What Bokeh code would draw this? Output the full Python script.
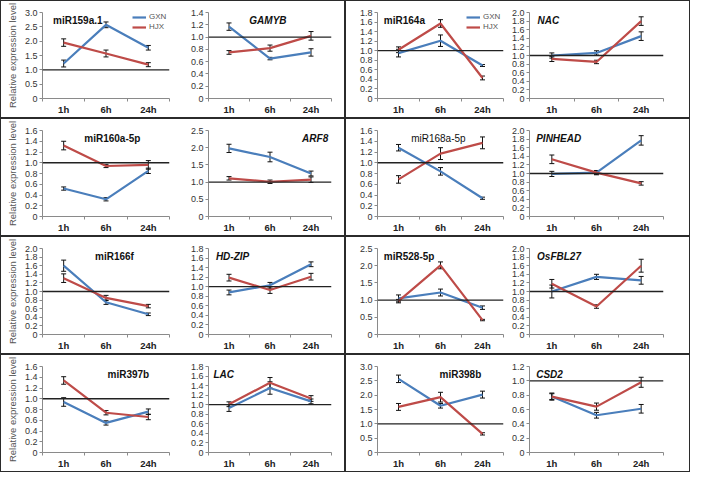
from bokeh.plotting import figure
from bokeh.models import (Span, Whisker, ColumnDataSource, Label, Legend, LegendItem,
                          FixedTicker, CustomJSTickFormatter, Range1d, TeeHead)
from bokeh.layouts import row, column
from bokeh.embed import file_html
from bokeh.resources import INLINE

times = ["1h", "6h", "24h"]
series_names = ["GXN", "HJX"]

# ---- data (relative expression, mean and error) ----
miR159a1_GXN = [1.22, 2.57, 1.77]; miR159a1_GXN_err = [0.12, 0.10, 0.08]
miR159a1_HJX = [1.95, 1.57, 1.18]; miR159a1_HJX_err = [0.13, 0.12, 0.07]
GAMYB_GXN = [1.17, 0.65, 0.75]; GAMYB_GXN_err = [0.06, 0.02, 0.06]
GAMYB_HJX = [0.75, 0.82, 1.02]; GAMYB_HJX_err = [0.03, 0.05, 0.07]

miR164a_GXN = [0.95, 1.21, 0.69]; miR164a_GXN_err = [0.08, 0.12, 0.02]
miR164a_HJX = [1.02, 1.57, 0.43]; miR164a_HJX_err = [0.06, 0.08, 0.04]
NAC_GXN = [1.00, 1.06, 1.45]; NAC_GXN_err = [0.06, 0.05, 0.10]
NAC_HJX = [0.92, 0.85, 1.80]; NAC_HJX_err = [0.06, 0.04, 0.10]

miR160a5p_GXN = [0.52, 0.32, 0.85]; miR160a5p_GXN_err = [0.03, 0.03, 0.05]
miR160a5p_HJX = [1.32, 0.94, 0.96]; miR160a5p_HJX_err = [0.08, 0.03, 0.08]
ARF8_GXN = [1.98, 1.73, 1.25]; ARF8_GXN_err = [0.12, 0.14, 0.07]
ARF8_HJX = [1.11, 1.01, 1.07]; ARF8_HJX_err = [0.05, 0.05, 0.08]

miR168a5p_GXN = [1.28, 0.84, 0.34]; miR168a5p_GXN_err = [0.06, 0.07, 0.02]
miR168a5p_HJX = [0.69, 1.17, 1.37]; miR168a5p_HJX_err = [0.07, 0.11, 0.11]
PINHEAD_GXN = [0.99, 1.02, 1.77]; PINHEAD_GXN_err = [0.06, 0.05, 0.11]
PINHEAD_HJX = [1.33, 1.02, 0.77]; PINHEAD_HJX_err = [0.10, 0.04, 0.04]

miR166f_GXN = [1.60, 0.75, 0.47]; miR166f_GXN_err = [0.13, 0.05, 0.03]
miR166f_HJX = [1.31, 0.85, 0.66]; miR166f_HJX_err = [0.10, 0.06, 0.04]
HDZIP_GXN = [0.88, 1.03, 1.47]; HDZIP_GXN_err = [0.05, 0.06, 0.05]
HDZIP_HJX = [1.19, 0.93, 1.21]; HDZIP_HJX_err = [0.07, 0.07, 0.07]

miR5285p_GXN = [1.05, 1.22, 0.78]; miR5285p_GXN_err = [0.10, 0.10, 0.05]
miR5285p_HJX = [0.97, 2.01, 0.42]; miR5285p_HJX_err = [0.05, 0.10, 0.02]
OsFBL27_GXN = [1.00, 1.34, 1.26]; OsFBL27_GXN_err = [0.15, 0.06, 0.09]
OsFBL27_HJX = [1.18, 0.65, 1.60]; OsFBL27_HJX_err = [0.10, 0.04, 0.15]

miR397b_GXN = [0.94, 0.55, 0.76]; miR397b_GXN_err = [0.08, 0.04, 0.05]
miR397b_HJX = [1.34, 0.74, 0.66]; miR397b_HJX_err = [0.07, 0.04, 0.05]
LAC_GXN = [0.93, 1.35, 1.07]; LAC_GXN_err = [0.07, 0.13, 0.05]
LAC_HJX = [1.01, 1.46, 1.13]; LAC_HJX_err = [0.05, 0.11, 0.06]

miR398b_GXN = [2.57, 1.63, 2.02]; miR398b_GXN_err = [0.13, 0.08, 0.12]
miR398b_HJX = [1.59, 1.93, 0.65]; miR398b_HJX_err = [0.12, 0.17, 0.04]
CSD2_GXN = [0.78, 0.52, 0.61]; CSD2_GXN_err = [0.04, 0.04, 0.06]
CSD2_HJX = [0.78, 0.64, 0.98]; CSD2_HJX_err = [0.05, 0.05, 0.07]

# axis maxima / steps per panel
y_max = {"miR159a.1": 3.0, "GAMYB": 1.4, "miR164a": 1.8, "NAC": 2.0,
         "miR160a-5p": 1.6, "ARF8": 2.5, "miR168a-5p": 1.6, "PINHEAD": 2.0,
         "miR166f": 2.0, "HD-ZIP": 1.8, "miR528-5p": 2.5, "OsFBL27": 2.0,
         "miR397b": 1.6, "LAC": 1.8, "miR398b": 3.0, "CSD2": 1.2}
y_step = {"miR159a.1": 0.5, "GAMYB": 0.2, "miR164a": 0.2, "NAC": 0.2,
          "miR160a-5p": 0.2, "ARF8": 0.5, "miR168a-5p": 0.2, "PINHEAD": 0.2,
          "miR166f": 0.2, "HD-ZIP": 0.2, "miR528-5p": 0.5, "OsFBL27": 0.2,
          "miR397b": 0.2, "LAC": 0.2, "miR398b": 0.5, "CSD2": 0.2}

BLUE = "#4a7ebb"
RED = "#be4b48"
FONT = "Liberation Sans"
ROW_H = 116


def make_panel(name, gxn, gxn_err, hjx, hjx_err, width, bl, br, gene=False,
               ylabel=False, legend=False, tx=0.7, talign="left", tweight="bold"):
    xs = list(range(1, len(times) + 1))
    ymax = y_max[name]
    step = y_step[name]
    n = int(round(ymax / step))
    ticks = [round(i * step, 2) for i in range(n + 1)]
    p = figure(width=width, height=ROW_H, x_range=Range1d(0.5, 3.5),
               y_range=Range1d(0, ymax), output_backend="svg", toolbar_location=None,
               min_border_left=bl, min_border_right=br, min_border_top=11,
               min_border_bottom=10)
    p.grid.visible = False
    p.outline_line_color = None
    p.background_fill_color = "white"
    p.border_fill_color = "white"

    # y axis
    ya = p.yaxis[0]
    ya.ticker = FixedTicker(ticks=ticks)
    ya.formatter = CustomJSTickFormatter(code="return tick == 0 ? '0' : tick.toFixed(1);")
    ya.major_label_text_font = FONT
    ya.major_label_text_font_size = "9px"
    ya.major_label_text_color = "#333"
    ya.major_label_standoff = 2
    ya.major_tick_out = 3
    ya.major_tick_in = 0
    ya.minor_tick_out = 0
    ya.axis_line_color = "#8a8a8a"
    ya.major_tick_line_color = "#8a8a8a"
    if ylabel:
        ya.axis_label = "Relative expression level"
        ya.axis_label_text_font = FONT
        ya.axis_label_text_font_size = "9.5px"
        ya.axis_label_text_font_style = "normal"
        ya.axis_label_text_color = "#555"
        ya.axis_label_standoff = 4

    # x axis
    xa = p.xaxis[0]
    xa.ticker = FixedTicker(ticks=xs, minor_ticks=[0.5, 1.5, 2.5, 3.5])
    xa.major_label_overrides = {x: t for x, t in zip(xs, times)}
    xa.major_label_text_font = FONT
    xa.major_label_text_font_size = "9.5px"
    xa.major_label_text_font_style = "bold"
    xa.major_label_text_color = "#222"
    xa.major_label_standoff = 2
    xa.major_tick_out = 0
    xa.major_tick_in = 0
    xa.minor_tick_out = 3
    xa.minor_tick_in = 0
    xa.axis_line_color = "#8a8a8a"
    xa.minor_tick_line_color = "#8a8a8a"

    p.add_layout(Span(location=1.0, dimension="width", line_color="#222", line_width=1.3))

    rends = []
    for vals, errs, col in ((gxn, gxn_err, BLUE), (hjx, hjx_err, RED)):
        src = ColumnDataSource(dict(x=xs, y=vals,
                                    upper=[v + e for v, e in zip(vals, errs)],
                                    lower=[v - e for v, e in zip(vals, errs)]))
        r = p.line("x", "y", source=src, line_color=col, line_width=2.2)
        rends.append(r)
        p.add_layout(Whisker(base="x", upper="upper", lower="lower", source=src,
                             line_color="#111", line_width=1,
                             upper_head=TeeHead(size=5, line_color="#111", line_width=1),
                             lower_head=TeeHead(size=5, line_color="#111", line_width=1)))

    p.add_layout(Label(x=tx, y=ymax, y_offset=-2, text=name, text_align=talign,
                       text_baseline="top", text_font=FONT, text_font_size="10px",
                       text_font_style=("bold italic" if gene else tweight),
                       text_color="#111"))

    if legend:
        lg = Legend(items=[LegendItem(label=series_names[0], renderers=[rends[0]]),
                           LegendItem(label=series_names[1], renderers=[rends[1]])],
                    location="top_right", label_text_font=FONT,
                    label_text_font_size="8px", label_text_color="#555",
                    glyph_width=14, glyph_height=8, label_height=8, spacing=1,
                    padding=1, margin=0, border_line_color=None,
                    background_fill_alpha=0, label_standoff=3)
        p.add_layout(lg)
    return p


def cell(pl, pr):
    return row(pl, pr, spacing=0,
               styles={"border": "1px solid #2b2b2b", "box-sizing": "content-box",
                       "background-color": "white"})


# left column cells
L1 = cell(
    make_panel("miR159a.1", miR159a1_GXN, miR159a1_GXN_err, miR159a1_HJX, miR159a1_HJX_err,
               175, 41, 7, ylabel=True, legend=True, tx=0.75),
    make_panel("GAMYB", GAMYB_GXN, GAMYB_GXN_err, GAMYB_HJX, GAMYB_HJX_err,
               168, 32, 13, gene=True, tx=1.95, talign="center"))
L2 = cell(
    make_panel("miR160a-5p", miR160a5p_GXN, miR160a5p_GXN_err, miR160a5p_HJX, miR160a5p_HJX_err,
               175, 41, 7, ylabel=True, tx=2.15, talign="center"),
    make_panel("ARF8", ARF8_GXN, ARF8_GXN_err, ARF8_HJX, ARF8_HJX_err,
               168, 32, 13, gene=True, tx=3.42, talign="right"))
L3 = cell(
    make_panel("miR166f", miR166f_GXN, miR166f_GXN_err, miR166f_HJX, miR166f_HJX_err,
               175, 41, 7, ylabel=True, tx=2.2, talign="center"),
    make_panel("HD-ZIP", HDZIP_GXN, HDZIP_GXN_err, HDZIP_HJX, HDZIP_HJX_err,
               168, 32, 13, gene=True, tx=0.68))
L4 = cell(
    make_panel("miR397b", miR397b_GXN, miR397b_GXN_err, miR397b_HJX, miR397b_HJX_err,
               175, 41, 7, ylabel=True, tx=3.02, talign="right"),
    make_panel("LAC", LAC_GXN, LAC_GXN_err, LAC_HJX, LAC_HJX_err,
               168, 32, 13, gene=True, tx=0.62))

# right column cells
R1 = cell(
    make_panel("miR164a", miR164a_GXN, miR164a_GXN_err, miR164a_HJX, miR164a_HJX_err,
               162, 31, 5, legend=True, tx=0.65),
    make_panel("NAC", NAC_GXN, NAC_GXN_err, NAC_HJX, NAC_HJX_err,
               181, 20, 26, gene=True, tx=0.68))
R2 = cell(
    make_panel("miR168a-5p", miR168a5p_GXN, miR168a5p_GXN_err, miR168a5p_HJX, miR168a5p_HJX_err,
               162, 31, 5, tx=1.95, talign="center", tweight="normal"),
    make_panel("PINHEAD", PINHEAD_GXN, PINHEAD_GXN_err, PINHEAD_HJX, PINHEAD_HJX_err,
               181, 20, 26, gene=True, tx=0.65))
R3 = cell(
    make_panel("miR528-5p", miR5285p_GXN, miR5285p_GXN_err, miR5285p_HJX, miR5285p_HJX_err,
               162, 31, 5, tx=0.65),
    make_panel("OsFBL27", OsFBL27_GXN, OsFBL27_GXN_err, OsFBL27_HJX, OsFBL27_HJX_err,
               181, 20, 26, gene=True, tx=0.67))
R4 = cell(
    make_panel("miR398b", miR398b_GXN, miR398b_GXN_err, miR398b_HJX, miR398b_HJX_err,
               162, 31, 5, tx=2.97, talign="right"),
    make_panel("CSD2", CSD2_GXN, CSD2_GXN_err, CSD2_HJX, CSD2_HJX_err,
               181, 20, 26, gene=True, tx=0.65))

rows = [row(L, R, spacing=0) for L, R in ((L1, R1), (L2, R2), (L3, R3), (L4, R4))]
layout = column(*rows, spacing=0)

open("out.html", "w").write(file_html(layout, INLINE))
